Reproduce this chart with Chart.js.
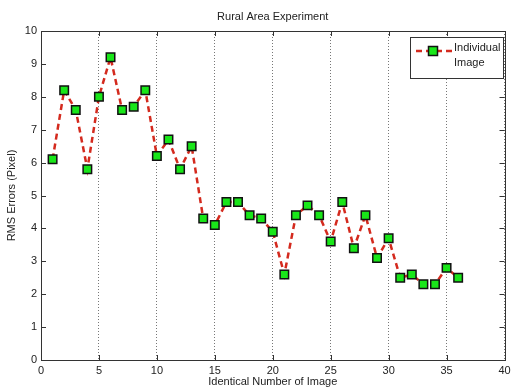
<!DOCTYPE html>
<html><head><meta charset="utf-8">
<script src="https://cdn.jsdelivr.net/npm/chart.js@4/dist/chart.umd.min.js"></script>
<style>html,body{margin:0;padding:0;background:#fff}#wrap{width:512px;height:389px}</style>
</head><body><div id="wrap"><canvas id="c" width="512" height="389"></canvas></div>
<script>
const imageNumbers = [1,2,3,4,5,6,7,8,9,10,11,12,13,14,15,16,17,18,19,20,21,22,23,24,25,26,27,28,29,30,31,32,33,34,35,36];
const rmsErrors = [6.1,8.2,7.6,5.8,8.0,9.2,7.6,7.7,8.2,6.2,6.7,5.8,6.5,4.3,4.1,4.8,4.8,4.4,4.3,3.9,2.6,4.4,4.7,4.4,3.6,4.8,3.4,4.4,3.1,3.7,2.5,2.6,2.3,2.3,2.8,2.5];
const xTicks = [0,5,10,15,20,25,30,35,40];
const yTicks = [0,1,2,3,4,5,6,7,8,9,10];
const titleText = 'Rural Area Experiment';
const xTitle = 'Identical Number of Image';
const yTitle = 'RMS Errors (Pixel)';
const legendLines = ['Individual','Image'];

const FONT = 'Liberation Sans, Arial, sans-serif';
const lineColor = '#d42a1e';
const markerFill = '#19e619';

const deco = {
  id: 'deco',
  afterDraw(chart) {
    const ctx = chart.ctx, a = chart.chartArea;
    const xs = chart.scales.x, ys = chart.scales.y;
    ctx.save();
    ctx.strokeStyle = '#333';
    ctx.lineWidth = 1;
    ctx.strokeRect(Math.round(a.left)+0.5, Math.round(a.top)+0.5, Math.round(a.right-a.left), Math.round(a.bottom-a.top));
    ctx.beginPath();
    const tl = 5;
    yTicks.forEach(v => {
      const y = Math.round(ys.getPixelForValue(v))+0.5;
      ctx.moveTo(a.left, y); ctx.lineTo(a.left+tl, y);
      ctx.moveTo(a.right, y); ctx.lineTo(a.right-tl, y);
    });
    xTicks.forEach(v => {
      const x = Math.round(xs.getPixelForValue(v))+0.5;
      ctx.moveTo(x, a.bottom); ctx.lineTo(x, a.bottom-tl);
      ctx.moveTo(x, a.top); ctx.lineTo(x, a.top+tl);
    });
    ctx.stroke();
    ctx.fillStyle = '#222';
    ctx.font = '11px ' + FONT;
    ctx.textAlign = 'center'; ctx.textBaseline = 'middle';
    ctx.fillText(titleText, (a.left+a.right)/2, 17);
    ctx.fillText(xTitle, (a.left+a.right)/2, 382);
    ctx.save();
    ctx.translate(12, (a.top+a.bottom)/2);
    ctx.rotate(-Math.PI/2);
    ctx.fillText(yTitle, 0, 0);
    ctx.restore();
    // legend
    const lx = 410, ly = 37, lw = 93, lh = 41;
    ctx.fillStyle = '#fff';
    ctx.fillRect(lx, ly, lw, lh);
    ctx.strokeStyle = '#333';
    ctx.strokeRect(lx+0.5, ly+0.5, lw, lh);
    ctx.strokeStyle = lineColor; ctx.lineWidth = 2.5;
    ctx.setLineDash([6,4]);
    ctx.beginPath(); ctx.moveTo(416, 51); ctx.lineTo(452, 51); ctx.stroke();
    ctx.setLineDash([]);
    ctx.fillStyle = markerFill; ctx.strokeStyle = '#111'; ctx.lineWidth = 1.5;
    ctx.fillRect(428.5, 46.5, 9, 9); ctx.strokeRect(428.5, 46.5, 9, 9);
    ctx.fillStyle = '#222'; ctx.textAlign = 'left';
    ctx.fillText(legendLines[0], 454, 48);
    ctx.fillText(legendLines[1], 454, 63);
    ctx.restore();
  }
};

new Chart(document.getElementById('c'), {
  type: 'line',
  data: {
    datasets: [{
      data: imageNumbers.map((x,i) => ({x, y: rmsErrors[i]})),
      borderColor: lineColor,
      borderWidth: 2.5,
      borderDash: [6,4],
      pointStyle: 'rect',
      pointRadius: 6,
      pointHoverRadius: 6,
      pointBackgroundColor: markerFill,
      pointBorderColor: '#111',
      pointBorderWidth: 1.5,
      tension: 0
    }]
  },
  options: {
    responsive: false,
    animation: false,
    devicePixelRatio: 1,
    layout: { padding: { left: 0, right: 5, top: 31, bottom: 0 } },
    plugins: { legend: { display: false }, title: { display: false }, tooltip: { enabled: false } },
    scales: {
      x: {
        type: 'linear', min: 0, max: 40,
        afterBuildTicks: s => { s.ticks = xTicks.map(v => ({value: v})); },
        afterFit: s => { s.height = 29; s.paddingLeft = 0; s.paddingRight = 0; },
        ticks: { font: { family: FONT, size: 11 }, color: '#222', padding: 4, maxRotation: 0 },
        grid: { color: '#777', drawTicks: false, lineWidth: 1 },
        border: { display: false, dash: [1,2] }
      },
      y: {
        min: 0, max: 10,
        afterBuildTicks: s => { s.ticks = yTicks.map(v => ({value: v})); },
        afterFit: s => { s.width = 41; s.paddingTop = 0; s.paddingBottom = 0; },
        ticks: { font: { family: FONT, size: 11 }, color: '#222', padding: 4 },
        grid: { display: false, drawTicks: false },
        border: { display: false }
      }
    }
  },
  plugins: [deco]
});
</script></body></html>
